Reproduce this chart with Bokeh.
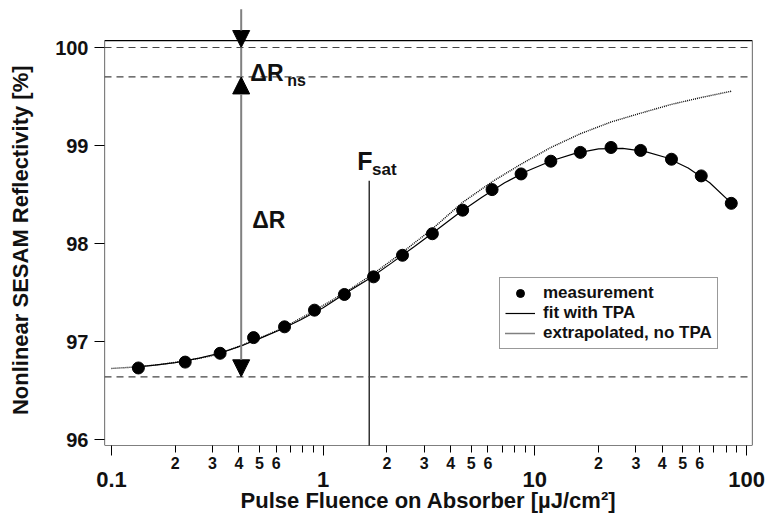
from bokeh.plotting import figure
from bokeh.models import (Span, Label, Arrow, NormalHead, LogAxis, FixedTicker,
                          CustomJSTickFormatter, Legend, LegendItem, Range1d, BoxAnnotation)
from bokeh.embed import file_html
from bokeh.resources import INLINE

# ---------------- data ----------------
meas_fluence = [0.134, 0.223, 0.326, 0.469, 0.657, 0.91, 1.26, 1.73, 2.37, 3.28,
                4.56, 6.28, 8.61, 11.9, 16.4, 22.9, 31.6, 44.2, 61.1, 84.7]
meas_refl = [96.73, 96.79, 96.88, 97.04, 97.15, 97.32, 97.48, 97.66, 97.88, 98.10,
             98.34, 98.55, 98.71, 98.84, 98.93, 98.98, 98.95, 98.86, 98.69, 98.41]

fit_fluence = [0.125, 0.16, 0.2, 0.26, 0.33, 0.41, 0.5, 0.62, 0.78, 1.0, 1.27, 1.65,
               2.1, 2.7, 3.4, 4.4, 5.6, 7.2, 9.2, 12, 15.5, 20, 26, 33, 42, 53, 67, 85]
fit_refl = [96.735, 96.76, 96.785, 96.83, 96.885, 96.955, 97.03, 97.115, 97.22, 97.345,
            97.49, 97.64, 97.80, 97.97, 98.13, 98.315, 98.47, 98.62, 98.74, 98.845,
            98.92, 98.965, 98.97, 98.94, 98.875, 98.77, 98.62, 98.41]

extrap_fluence = [0.1, 0.13, 0.17, 0.22, 0.3, 0.4, 0.5, 0.65, 0.85, 1.1, 1.4, 1.8,
                  2.37, 3.28, 4.56, 6.28, 8.61, 11.9, 16.4, 22.9, 31.6, 44.2, 61.1, 84.7]
extrap_refl = [96.725, 96.74, 96.765, 96.80, 96.855, 96.95, 97.035, 97.14, 97.28, 97.42,
               97.56, 97.72, 97.91, 98.15, 98.42, 98.63, 98.81, 98.98, 99.12, 99.24,
               99.33, 99.42, 99.49, 99.554]

# reference levels (dashed lines): R = 100 %, R_ns, R_lin
level_values = [100.0, 99.7, 96.64]
delta_fluence = 0.41          # position of the Delta-R arrows
arrow_top = 100.39            # arrow shaft starts above the plot box
fsat_value = 1.65             # saturation fluence marker
fsat_line_top = 98.64
box_top = 100.071             # top edge of the drawn plot box

y_ticks = [96, 97, 98, 99, 100]
x_major_ticks = [0.1, 1, 10, 100]
x_minor_ticks = [0.2, 0.3, 0.4, 0.5, 0.6, 0.7, 0.8, 0.9,
                 2, 3, 4, 5, 6, 7, 8, 9,
                 20, 30, 40, 50, 60, 70, 80, 90]

FONT = "Liberation Sans"
INK = "#111111"
NB = "\u00a0"

p = figure(width=765, height=516, x_axis_type="log",
           x_range=Range1d(0.0927, 106.7), y_range=Range1d(95.939, 100.439),
           output_backend="svg", toolbar_location=None,
           min_border_left=104, min_border_right=13, min_border_top=4,
           min_border_bottom=71)
p.grid.visible = False
p.outline_line_color = None
p.background_fill_color = "white"
p.border_fill_color = "white"

# visible plot box (lower than the frame so the arrow can rise above it)
p.add_layout(BoxAnnotation(top=box_top, fill_color=None, fill_alpha=0,
                           line_color="black", line_width=1.2, line_alpha=1.0))

# ---- y axis ----
ya = p.yaxis[0]
ya.ticker = FixedTicker(ticks=y_ticks)
ya.major_tick_out = 10
ya.major_tick_in = 0
ya.minor_tick_out = 0
ya.minor_tick_in = 0
ya.axis_line_color = None
ya.major_tick_line_color = "black"
ya.major_label_standoff = 6
ya.major_label_text_font = FONT
ya.major_label_text_font_style = "bold"
ya.major_label_text_font_size = "20px"
ya.major_label_text_color = INK
ya.axis_label = "Nonlinear SESAM Reflectivity [%]" + NB * 5
ya.axis_label_text_font = FONT
ya.axis_label_text_font_style = "bold"
ya.axis_label_text_font_size = "22px"
ya.axis_label_text_color = INK
ya.axis_label_standoff = 19

# ---- x axis A: ticks + small digit labels ----
xa = p.xaxis[0]
xa.ticker = FixedTicker(ticks=x_minor_ticks, minor_ticks=x_major_ticks)
xa.formatter = CustomJSTickFormatter(code="""
    const e = Math.floor(Math.log10(tick) + 1e-9);
    const m = Math.round(tick / Math.pow(10, e));
    return (m >= 2 && m <= 6) ? String(m) : "";
""")
xa.axis_line_color = None
xa.major_tick_out = 7
xa.major_tick_in = 0
xa.minor_tick_out = 10
xa.minor_tick_in = 0
xa.major_tick_line_color = "black"
xa.minor_tick_line_color = "black"
xa.major_label_standoff = 1
xa.major_label_text_font = FONT
xa.major_label_text_font_style = "bold"
xa.major_label_text_font_size = "16px"
xa.major_label_text_color = INK

# ---- x axis B: decade labels + title ----
xb = LogAxis(ticker=FixedTicker(ticks=x_major_ticks, minor_ticks=[]),
             formatter=CustomJSTickFormatter(code="""
    const e = Math.round(Math.log10(tick));
    return e < 0 ? tick.toFixed(-e) : String(Math.round(tick));
"""),
             axis_line_color=None, major_tick_out=0, major_tick_in=0,
             minor_tick_out=0, minor_tick_in=0, major_label_standoff=0,
             major_label_text_font=FONT, major_label_text_font_style="bold",
             major_label_text_font_size="22px", major_label_text_color=INK,
             axis_label="Pulse Fluence on Absorber [µJ/cm²]",
             axis_label_text_font=FONT, axis_label_text_font_style="bold",
             axis_label_text_font_size="22px", axis_label_text_color=INK,
             axis_label_standoff=-2)
p.add_layout(xb, "below")

# ---- reference levels ----
for lv in level_values:
    p.add_layout(Span(location=lv, dimension="width", line_color="#444444",
                      line_width=1.2, line_dash="7 5"))

# ---- curves and points ----
r_ext = p.line(extrap_fluence, extrap_refl, line_color="black", line_width=1.4,
               line_dash="1 1")
r_fit = p.line(fit_fluence, fit_refl, line_color="black", line_width=1.2)
p.segment(x0=[fsat_value], y0=[95.0], x1=[fsat_value], y1=[fsat_line_top],
          line_color="black", line_width=1.2)
r_meas = p.scatter(meas_fluence, meas_refl, size=12, color="black")

# ---- arrows ----
head = dict(size=17, fill_color="black", line_color="black")
p.add_layout(Arrow(end=NormalHead(**head), x_start=delta_fluence, y_start=arrow_top,
                   x_end=delta_fluence, y_end=level_values[0],
                   line_color="#808080", line_width=2))
p.add_layout(Arrow(end=None, x_start=delta_fluence, y_start=level_values[0],
                   x_end=delta_fluence, y_end=level_values[1],
                   line_color="#808080", line_width=2))
p.add_layout(Arrow(start=NormalHead(**head), end=NormalHead(**head),
                   x_start=delta_fluence, y_start=level_values[2],
                   x_end=delta_fluence, y_end=level_values[1],
                   line_color="#808080", line_width=2))

# ---- text annotations ----
def lab(x, y, text, size):
    p.add_layout(Label(x=x, y=y, text=text, text_font=FONT, text_font_style="bold",
                       text_font_size=size, text_color=INK,
                       text_baseline="alphabetic", text_align="left"))

lab(0.453, 99.745, "ΔR", "23px")
lab(0.676, 99.663, "ns", "16px")
lab(0.462, 98.235, "ΔR", "23px")
lab(1.447, 98.837, "F", "25px")
lab(1.702, 98.755, "sat", "17px")

# ---- legend ----
legend = Legend(items=[LegendItem(label="measurement", renderers=[r_meas]),
                       LegendItem(label="fit with TPA", renderers=[r_fit]),
                       LegendItem(label="extrapolated, no TPA", renderers=[r_ext])],
                location=(395, 96), margin=0, padding=5, spacing=0,
                label_height=20, glyph_height=20, glyph_width=30, label_standoff=8,
                label_text_font=FONT, label_text_font_style="bold",
                label_text_font_size="17px", label_text_color=INK,
                border_line_color="#333333", border_line_width=1,
                background_fill_color="white", background_fill_alpha=1.0)
p.add_layout(legend)

open("out.html", "w").write(file_html(p, INLINE))
